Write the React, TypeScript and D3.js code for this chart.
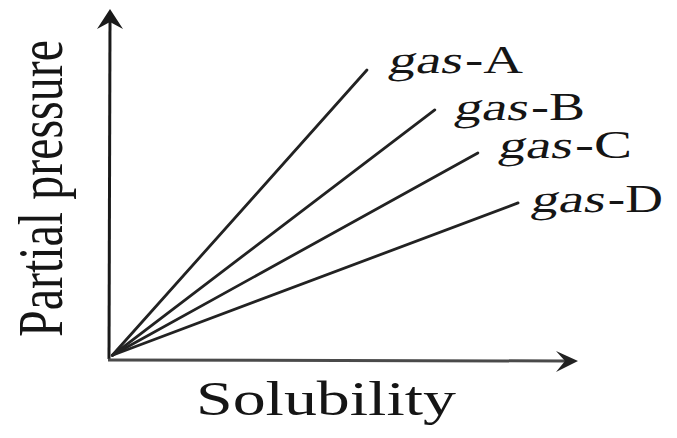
import React from "react";
import * as d3 from "d3";

// Gases plotted as straight lines through the origin (Henry's law)
const gases = ["A", "B", "C", "D"];
// End point of each line: relative solubility (x) and partial pressure (y)
const solubilityEnd = [0.549, 0.694, 0.786, 0.872];
const pressureEnd = [0.827, 0.712, 0.588, 0.444];
// Label anchor (in data units) and label width for each gas
const labelX = [0.592, 0.733, 0.827, 0.897];
const labelY = [0.818, 0.683, 0.574, 0.418];
const labelWidth = [136, 132, 135, 133];

const xLabel = "Solubility";
const yLabel = "Partial pressure";

const W = 677;
const H = 438;
const origin = { x: 109, y: 359 };

export default function App() {
  const x = d3.scaleLinear().domain([0, 1]).range([110, 578]);
  const y = d3.scaleLinear().domain([0, 1]).range([357, 10]);
  const line = d3
    .line<[number, number]>()
    .x((d) => x(d[0]))
    .y((d) => y(d[1]));

  const serif = "'Liberation Serif', 'DejaVu Serif', serif";

  // Arrow heads
  const yTip = { x: 110, y: 9 };
  const yHead = `M${yTip.x},${yTip.y} L${yTip.x + 13},${yTip.y + 20} L${yTip.x},${yTip.y + 13} L${yTip.x - 13},${yTip.y + 20} Z`;
  const xTip = { x: 578, y: 361 };
  const xHead = `M${xTip.x},${xTip.y} L${xTip.x - 22},${xTip.y - 10} L${xTip.x - 13},${xTip.y} L${xTip.x - 22},${xTip.y + 11} Z`;

  const gasWidth = 74;
  const gap = 4;

  return (
    <svg
      width={W}
      height={H}
      style={{ position: "absolute", left: 0, top: 0, background: "#fff" }}
    >
      <rect width={W} height={H} fill="#fff" />
      {/* axes */}
      <line
        x1={origin.x}
        y1={origin.y}
        x2={yTip.x}
        y2={yTip.y + 12}
        stroke="#1a1a1a"
        strokeWidth={3}
      />
      <path d={yHead} fill="#1a1a1a" />
      <line
        x1={origin.x - 1}
        y1={origin.y + 1}
        x2={xTip.x - 12}
        y2={xTip.y}
        stroke="#4a4a4a"
        strokeWidth={3}
      />
      <path d={xHead} fill="#222" />

      {/* gas lines */}
      {gases.map((g, i) => (
        <path
          key={g}
          d={line([
            [0.005, 0.005],
            [solubilityEnd[i], pressureEnd[i]],
          ]) as string}
          stroke="#222"
          strokeWidth={2.8}
          fill="none"
          strokeLinecap="round"
        />
      ))}

      {/* gas labels: slanted "gas" followed by upright "-X" */}
      {gases.map((g, i) => (
        <g key={"l" + g} transform={`translate(${x(labelX[i])},${y(labelY[i])})`}>
          <text
            transform="skewX(-12)"
            x={0}
            y={0}
            fontFamily={serif}
            fontSize={39}
            fill="#151515"
            textLength={gasWidth}
            lengthAdjust="spacingAndGlyphs"
          >
            gas
          </text>
          <text
            x={gasWidth + gap}
            y={0}
            fontFamily={serif}
            fontSize={39}
            fill="#151515"
            textLength={labelWidth[i] - gasWidth - gap}
            lengthAdjust="spacingAndGlyphs"
          >
            -{g}
          </text>
        </g>
      ))}

      {/* axis titles */}
      <text
        x={196}
        y={415}
        fontFamily={serif}
        fontSize={48}
        fill="#151515"
        textLength={260}
        lengthAdjust="spacingAndGlyphs"
      >
        {xLabel}
      </text>
      <text
        transform="translate(62,337) scale(1.3,1) rotate(-90)"
        x={0}
        y={0}
        fontFamily={serif}
        fontSize={48}
        fill="#151515"
        textLength={297}
        lengthAdjust="spacingAndGlyphs"
      >
        {yLabel}
      </text>
    </svg>
  );
}
